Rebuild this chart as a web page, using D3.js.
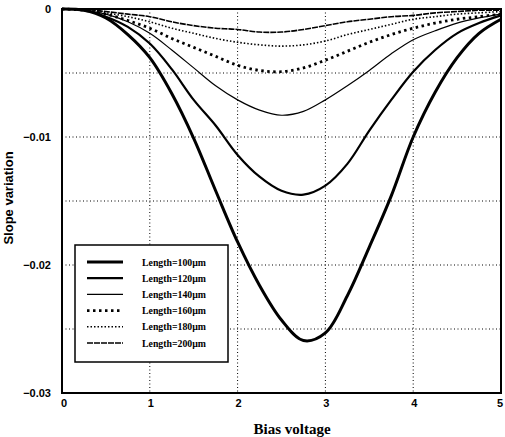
<!DOCTYPE html>
<html>
<head>
<meta charset="utf-8">
<script src="https://cdn.jsdelivr.net/npm/d3@7"></script>
<style>
  body { margin: 0; background: #fff; }
  svg { display: block; }
</style>
</head>
<body>
<svg id="chart" width="505" height="437"></svg>
<script>
// bias voltage samples shared by all curves
const biasVoltage = [0, 0.25, 0.5, 0.75, 1, 1.25, 1.5, 1.75, 2, 2.25, 2.5, 2.75, 3, 3.25, 3.5, 3.75, 4, 4.25, 4.5, 4.75, 5];

const len100 = [0, -0.0001, -0.0007, -0.0020, -0.0038, -0.0066, -0.0101, -0.0142, -0.0182, -0.0216, -0.0243, -0.0259, -0.0253, -0.0224, -0.0186, -0.0146, -0.0100, -0.0065, -0.0038, -0.0019, -0.0008];
const len120 = [0, -0.0001, -0.0006, -0.0014, -0.0027, -0.0047, -0.0071, -0.0091, -0.0114, -0.0131, -0.0142, -0.0145, -0.0138, -0.0121, -0.0095, -0.0071, -0.0049, -0.0032, -0.0019, -0.0011, -0.0005];
const len140 = [0, -0.0001, -0.0004, -0.0010, -0.0019, -0.0032, -0.0046, -0.0060, -0.0071, -0.0079, -0.0083, -0.0080, -0.0071, -0.0060, -0.0048, -0.0035, -0.0024, -0.0017, -0.0011, -0.0007, -0.0004];
const len160 = [0, -0.0001, -0.0004, -0.0009, -0.0015, -0.0023, -0.0030, -0.0037, -0.0044, -0.0048, -0.0049, -0.0046, -0.0040, -0.0033, -0.0026, -0.0020, -0.0015, -0.0011, -0.0008, -0.0006, -0.0004];
const len180 = [0, 0, -0.0003, -0.0006, -0.0010, -0.0015, -0.0019, -0.0023, -0.0026, -0.0028, -0.0029, -0.0028, -0.0025, -0.0020, -0.0016, -0.0012, -0.0008, -0.0006, -0.0004, -0.0003, -0.0002];
const len200 = [0, 0, -0.0002, -0.0004, -0.0006, -0.0010, -0.0013, -0.0015, -0.0016, -0.0018, -0.0018, -0.0016, -0.0013, -0.0010, -0.0008, -0.0006, -0.0005, -0.0003, -0.0002, -0.0001, -0.0001];

const seriesNames = ["Length=100\u00b5m", "Length=120\u00b5m", "Length=140\u00b5m", "Length=160\u00b5m", "Length=180\u00b5m", "Length=200\u00b5m"];
const seriesValues = [len100, len120, len140, len160, len180, len200];

const xTicks = [0, 1, 2, 3, 4, 5];
const yTicks = [0, -0.01, -0.02, -0.03];
const yGrid = [-0.005, -0.01, -0.015, -0.02, -0.025];

// line styles per series: width, dasharray
const styles = [
  {w: 3, dash: null},
  {w: 2.2, dash: null},
  {w: 1.2, dash: null},
  {w: 2.8, dash: "2.5,3.5"},
  {w: 1.6, dash: "1.5,2"},
  {w: 1.6, dash: "6,1"}
];

const svg = d3.select("#chart");
const x = d3.scaleLinear().domain([0, 5]).range([62, 501]);
const y = d3.scaleLinear().domain([-0.03, 0]).range([393, 9]);

// grid
const grid = svg.append("g").attr("stroke", "#000").attr("stroke-width", 1).attr("stroke-dasharray", "1,2.5");
grid.selectAll(".vg").data([1, 2, 3, 4]).enter().append("line")
  .attr("x1", d => x(d)).attr("x2", d => x(d))
  .attr("y1", y(0)).attr("y2", y(-0.03));
grid.selectAll(".hg").data(yGrid).enter().append("line")
  .attr("x1", x(0)).attr("x2", x(5))
  .attr("y1", d => y(d)).attr("y2", d => y(d));

// curves
const line = d3.line()
  .curve(d3.curveCatmullRom)
  .x((d, i) => x(biasVoltage[i]))
  .y(d => y(d));

svg.append("g").selectAll("path").data(seriesValues).enter().append("path")
  .attr("d", d => line(d))
  .attr("fill", "none")
  .attr("stroke", "#000")
  .attr("stroke-width", (d, i) => styles[i].w)
  .attr("stroke-dasharray", (d, i) => styles[i].dash);

// frame
svg.append("rect")
  .attr("x", x(0)).attr("y", y(0))
  .attr("width", x(5) - x(0)).attr("height", y(-0.03) - y(0))
  .attr("fill", "none").attr("stroke", "#000").attr("stroke-width", 2);

// axes labels
const tickFont = "'Liberation Sans Narrow', 'Liberation Sans', sans-serif";
svg.append("g").selectAll("text").data(yTicks).enter().append("text")
  .attr("x", 51).attr("y", d => y(d)).attr("dy", "0.35em")
  .attr("text-anchor", "end")
  .style("font", "bold 11px " + tickFont)
  .text(d => d === 0 ? "0" : d3.format(".2f")(d));

svg.append("g").selectAll("text").data(xTicks).enter().append("text")
  .attr("x", d => x(d) + (d === 0 ? 2 : d === 5 ? -1 : 1)).attr("y", 407)
  .attr("text-anchor", "middle")
  .style("font", "bold 11px " + tickFont)
  .text(d => d);

svg.append("text")
  .attr("x", 292).attr("y", 434)
  .attr("text-anchor", "middle")
  .style("font", "bold 15px 'Liberation Serif', serif")
  .text("Bias voltage");

svg.append("text")
  .attr("transform", "translate(13,198) rotate(-90)")
  .attr("text-anchor", "middle")
  .style("font", "bold 13px " + tickFont)
  .text("Slope variation");

// legend
const legend = svg.append("g");
legend.append("rect")
  .attr("x", 75).attr("y", 245).attr("width", 153).attr("height", 117)
  .attr("fill", "#fff").attr("stroke", "#000").attr("stroke-width", 1.5);

const rows = legend.selectAll(".row").data(seriesNames).enter().append("g")
  .attr("transform", (d, i) => "translate(0," + (262 + i * 16.2) + ")");
rows.append("line")
  .attr("x1", 87).attr("x2", 123).attr("y1", 0).attr("y2", 0)
  .attr("stroke", "#000")
  .attr("stroke-width", (d, i) => styles[i].w)
  .attr("stroke-dasharray", (d, i) => styles[i].dash);
rows.append("text")
  .attr("x", 142).attr("y", 0).attr("dy", "0.35em")
  .style("font", "bold 10.5px 'Liberation Serif', serif")
  .attr("textLength", 64)
  .attr("lengthAdjust", "spacingAndGlyphs")
  .text(d => d);
</script>
</body>
</html>
